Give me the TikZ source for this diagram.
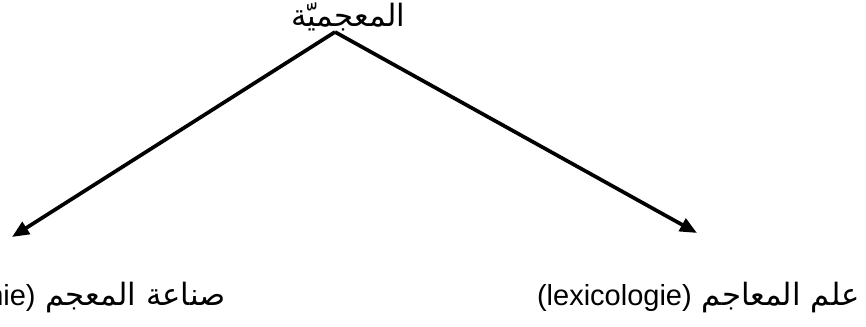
\documentclass[tikz,border=0pt]{standalone}
\usepackage{fontspec}
\setmainfont{Liberation Sans}
\newfontfamily\arabicfont[Script=Arabic]{DejaVu Sans}
\TeXXeTstate=1
\usetikzlibrary{arrows.meta}
\definecolor{TreeInk}{HTML}{000000}
\tikzset{
  every node/.style={font=\fontsize{17.5}{21}\selectfont, text=TreeInk, inner sep=0pt},
  term/.style={anchor=base east},
  latin/.style={font=\fontsize{16.5}{20}\selectfont},
  branch/.style={-{Triangle[length=3.4mm,width=2.8mm]}, draw=TreeInk, line width=2.1pt},
}
\begin{document}
\begin{tikzpicture}[x=0.02cm,y=-0.02cm]
  \useasboundingbox (0,0) rectangle (866,327);
  \clip (0,0) rectangle (866,327);
  % top term
  \node (root) at (348,17) {\arabicfont\beginR المعجميّة\endR};
  \coordinate (apex) at (335,32);
  % branch tips
  \coordinate (graphTip) at (12,237);
  \coordinate (logyTip) at (697,233);
  \draw[branch] (apex) -- (graphTip);
  \draw[branch] (apex) -- (logyTip);
  % bottom terms
  \node[term] (graph) at (226,306) {\arabicfont\beginR صناعة المعجم \beginL\rmfamily\fontsize{16.5}{20}\selectfont(lexicographie)\endL\endR};
  \node[term] (logy) at (860,306) {\arabicfont\beginR علم المعاجم \beginL\rmfamily\fontsize{16.5}{20}\selectfont(lexicologie)\endL\endR};
\end{tikzpicture}
\end{document}
